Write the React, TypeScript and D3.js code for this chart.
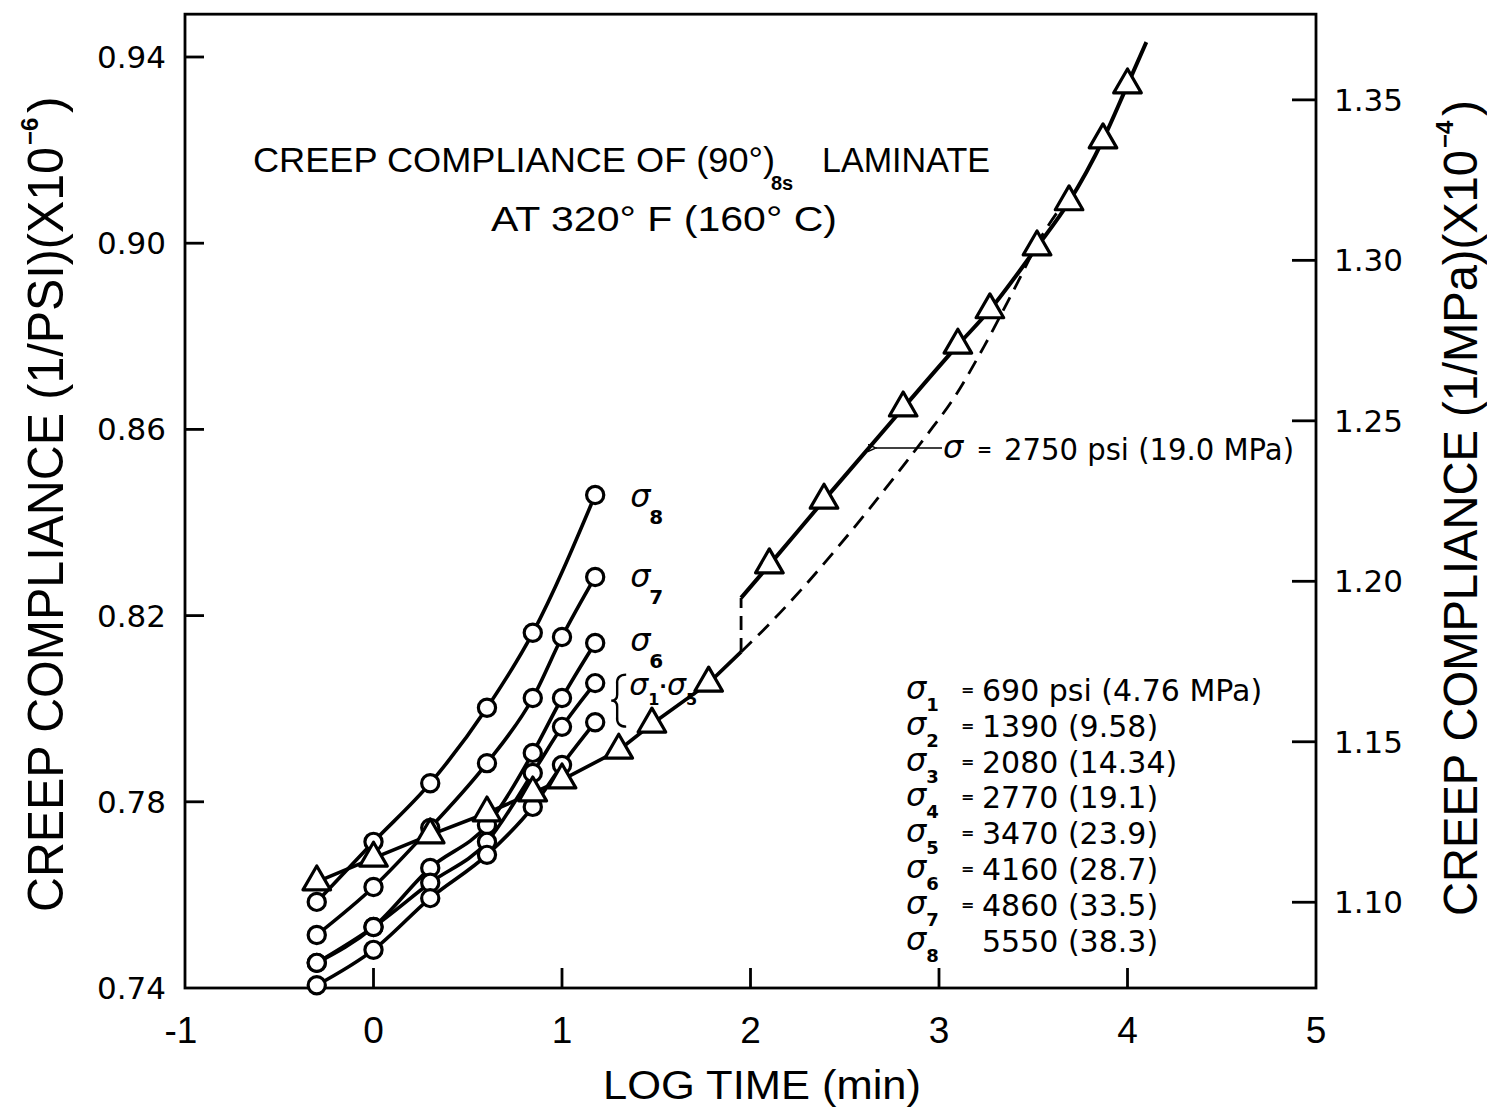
import React from 'react';
import * as d3 from 'd3';

// ---------- data ----------
const xTicks = [-1, 0, 1, 2, 3, 4, 5];
const xTickLabels = ['-1', '0', '1', '2', '3', '4', '5'];
const yTicksPsi = [0.74, 0.78, 0.82, 0.86, 0.9, 0.94];
const yTicksMPa = [1.1, 1.15, 1.2, 1.25, 1.3, 1.35];
const PSI_TO_MPA = 1.45038;

// log time (min) of the circle measurements
const logTime = [-0.301, 0, 0.301, 0.602, 0.845, 1.0, 1.176];
const sigma8 = [0.7585, 0.7714, 0.784, 0.8002, 0.8163, null, 0.8459];
const sigma7 = [0.7514, 0.7617, 0.7744, 0.7883, 0.8023, 0.8154, 0.8283];
const sigma6 = [0.7454, 0.7531, 0.7658, 0.775, 0.7905, 0.8023, 0.8141];
const sigma5 = [0.7454, 0.7531, 0.7626, 0.7714, 0.7862, 0.7961, 0.8055];
const sigma1 = [0.7406, 0.7482, 0.7593, 0.7686, 0.7789, 0.7879, 0.7971];

// sigma = 2750 psi, triangles
const triTime1 = [-0.301, 0, 0.301, 0.602, 0.845, 1.0, 1.301, 1.477, 1.778];
const triComp1 = [0.7628, 0.7679, 0.7729, 0.7776, 0.7819, 0.7847, 0.7911, 0.7967, 0.8055];
const stepTime = 1.95;
const stepLow = 0.8122;
const stepHigh = 0.8238;
const triTime2 = [2.1, 2.39, 2.81, 3.1, 3.27, 3.52, 3.69, 3.87, 4.0];
const triComp2 = [0.8309, 0.8448, 0.8646, 0.8781, 0.8857, 0.8992, 0.9089, 0.9222, 0.934];
const lineEndTime = 4.1;
const lineEndComp = 0.9432;

// dashed curve
const dashTime = [1.95, 2.095, 2.281, 2.451, 2.626, 2.78, 2.928, 3.08, 3.24, 3.41, 3.54, 3.66];
const dashComp = [0.8122, 0.818, 0.8261, 0.8341, 0.8427, 0.8506, 0.8584, 0.8668, 0.8779, 0.891, 0.9012, 0.9085];

// legend
const legendIndex = ['1', '2', '3', '4', '5', '6', '7', '8'];
const legendEq = ['=', '=', '=', '=', '=', '=', '=', ''];
const legendValues = [
  '690 psi (4.76 MPa)',
  '1390 (9.58)',
  '2080  (14.34)',
  '2770 (19.1)',
  '3470 (23.9)',
  '4160 (28.7)',
  '4860 (33.5)',
  '5550 (38.3)',
];

const SANS = "'Liberation Sans', Arial, sans-serif";
const NUM = "'DejaVu Sans', sans-serif";

export default function App() {
  const x = d3.scaleLinear().domain([-1, 5]).range([185, 1316]);
  const y = d3.scaleLinear().domain([0.74, 0.94]).range([988, 57]);
  const yTopVal = 0.9492;
  const yR = d3.scaleLinear().domain([0.74 * PSI_TO_MPA, 0.94 * PSI_TO_MPA]).range([988, 57]);

  const smooth = d3
    .line<[number, number]>()
    .x((d) => x(d[0]))
    .y((d) => y(d[1]))
    .curve(d3.curveMonotoneX);
  const straight = d3
    .line<[number, number]>()
    .x((d) => x(d[0]))
    .y((d) => y(d[1]));

  const circleSeries = [sigma8, sigma7, sigma6, sigma5, sigma1].map((vals) =>
    logTime
      .map((t, i) => [t, vals[i]] as [number, number | null])
      .filter((p) => p[1] !== null) as [number, number][]
  );

  const tri1 = triTime1.map((t, i) => [t, triComp1[i]] as [number, number]);
  const tri2 = triTime2.map((t, i) => [t, triComp2[i]] as [number, number]);
  const seg1: [number, number][] = [...tri1, [stepTime, stepLow]];
  const seg2: [number, number][] = [[stepTime, stepHigh], ...tri2, [lineEndTime, lineEndComp]];
  const dash = dashTime.map((t, i) => [t, dashComp[i]] as [number, number]);
  const triPath = d3.symbol().type(d3.symbolTriangle).size(330)() as string;

  const x0 = x(-1);
  const x1 = x(5);
  const yb = y(0.74);
  const yt = y(yTopVal);

  const endY = (vals: (number | null)[]) => y(vals[vals.length - 1] as number);
  const labX = x(1.176) + 35;
  const groupMid = (endY(sigma5) + endY(sigma1)) / 2;

  const arrowY = y(0.856);
  const arrowTip = x(2.655);
  const arrowTail = x(3.016);

  const legendX = 906;
  const legendBase = 699;
  const legendStep = 35.8;

  return (
    <svg
      width={1487}
      height={1108}
      style={{ position: 'absolute', left: 0, top: 0, background: '#fff' }}
      xmlns="http://www.w3.org/2000/svg"
    >
      <defs>
        <marker id="ah" viewBox="0 0 10 10" refX="1" refY="5" markerWidth="9" markerHeight="9" orient="auto-start-reverse" markerUnits="userSpaceOnUse">
          <path d="M10,1 L1,5 L10,9" fill="none" stroke="#000" strokeWidth="1.6" />
        </marker>
      </defs>
      <rect x={0} y={0} width={1487} height={1108} fill="#fff" />

      {/* frame */}
      <rect x={x0} y={yt} width={x1 - x0} height={yb - yt} fill="none" stroke="#000" strokeWidth={2.8} />

      {/* bottom ticks */}
      {xTicks.slice(1, -1).map((t) => (
        <line key={'xt' + t} x1={x(t)} x2={x(t)} y1={yb} y2={yb - 20} stroke="#000" strokeWidth={2.8} />
      ))}
      {xTicks.map((t, i) => (
        <text key={'xl' + t} x={x(t) - (t === -1 ? 4 : 0)} y={1043} fontFamily={SANS} fontSize={37} textAnchor="middle">
          {xTickLabels[i]}
        </text>
      ))}
      <text x={762} y={1099} fontFamily={SANS} fontSize={41} textAnchor="middle" textLength={318} lengthAdjust="spacingAndGlyphs">
        LOG TIME (min)
      </text>

      {/* left ticks */}
      {yTicksPsi.map((t) => (
        <g key={'yl' + t}>
          {t > 0.74 && <line x1={x0} x2={x0 + 19} y1={y(t)} y2={y(t)} stroke="#000" strokeWidth={2.8} />}
          <text x={166} y={y(t) + 11} fontFamily={NUM} fontSize={31} textAnchor="end">
            {t.toFixed(2)}
          </text>
        </g>
      ))}
      {/* right ticks */}
      {yTicksMPa.map((t) => (
        <g key={'yr' + t}>
          <line x1={x1} x2={x1 - 24} y1={yR(t)} y2={yR(t)} stroke="#000" strokeWidth={2.8} />
          <text x={1334} y={yR(t) + 11} fontFamily={NUM} fontSize={31} textAnchor="start">
            {t.toFixed(2)}
          </text>
        </g>
      ))}

      {/* left axis title */}
      <g transform="translate(63,0) rotate(-90)" fontFamily={SANS}>
        <text x={-912} y={0} fontSize={50} textLength={765} lengthAdjust="spacingAndGlyphs">
          CREEP COMPLIANCE (1/PSI)(X10
        </text>
        <text x={-145} y={-25} fontSize={24} fontWeight="bold">−6</text>
        <text x={-113} y={0} fontSize={50}>)</text>
      </g>
      {/* right axis title */}
      <g transform="translate(1477,0) rotate(-90)" fontFamily={SANS}>
        <text x={-916} y={0} fontSize={48} textLength={766} lengthAdjust="spacingAndGlyphs">
          CREEP COMPLIANCE (1/MPa)(X10
        </text>
        <text x={-148} y={-24} fontSize={24} fontWeight="bold">−4</text>
        <text x={-116} y={0} fontSize={48}>)</text>
      </g>

      {/* title */}
      <g fontFamily={SANS}>
        <text x={253} y={172} fontSize={35} textLength={522} lengthAdjust="spacingAndGlyphs">
          CREEP COMPLIANCE OF (90°)
        </text>
        <text x={771} y={190} fontSize={20} fontWeight="bold">8s</text>
        <text x={822} y={172} fontSize={35} textLength={168} lengthAdjust="spacingAndGlyphs">
          LAMINATE
        </text>
        <text x={491} y={231} fontSize={35} textLength={346} lengthAdjust="spacingAndGlyphs">
          AT  320° F  (160° C)
        </text>
      </g>

      {/* circle series lines */}
      {circleSeries.map((pts, i) => (
        <path key={'cl' + i} d={smooth(pts) as string} fill="none" stroke="#000" strokeWidth={3.6} />
      ))}

      {/* triangle series */}
      <path d={straight(seg1) as string} fill="none" stroke="#000" strokeWidth={3.6} />
      <path d={smooth(seg2) as string} fill="none" stroke="#000" strokeWidth={4} />
      <line x1={x(stepTime)} x2={x(stepTime)} y1={y(stepLow)} y2={y(stepHigh)} stroke="#000" strokeWidth={2.8} strokeDasharray="14 8" />
      <path d={smooth(dash) as string} fill="none" stroke="#000" strokeWidth={2.8} strokeDasharray="15 9" />

      {/* circles */}
      {circleSeries.map((pts, i) =>
        pts.map((p, j) => (
          <circle key={'c' + i + '-' + j} cx={x(p[0])} cy={y(p[1])} r={8.6} fill="#fff" stroke="#000" strokeWidth={3.2} />
        ))
      )}
      {/* triangles */}
      {[...tri1, ...tri2].map((p, j) => (
        <path key={'t' + j} d={triPath} transform={`translate(${x(p[0])},${y(p[1])})`} fill="#fff" stroke="#000" strokeWidth={3.2} strokeLinejoin="round" />
      ))}

      {/* series labels */}
      <g fontFamily={NUM}>
        <text x={labX} y={endY(sigma8) + 12} fontSize={32} fontStyle="italic">σ</text>
        <text x={labX + 19} y={endY(sigma8) + 29} fontSize={20} fontWeight="bold">8</text>
        <text x={labX} y={endY(sigma7) + 10} fontSize={32} fontStyle="italic">σ</text>
        <text x={labX + 19} y={endY(sigma7) + 27} fontSize={20} fontWeight="bold">7</text>
        <text x={labX} y={endY(sigma6) + 8} fontSize={32} fontStyle="italic">σ</text>
        <text x={labX + 19} y={endY(sigma6) + 25} fontSize={20} fontWeight="bold">6</text>
        <path
          d={`M ${labX - 4} ${groupMid - 28} Q ${labX - 14} ${groupMid - 28} ${labX - 13} ${groupMid - 18} L ${labX - 13} ${groupMid - 8} Q ${labX - 13} ${groupMid - 2} ${labX - 19} ${groupMid - 2} Q ${labX - 13} ${groupMid - 2} ${labX - 13} ${groupMid + 4} L ${labX - 13} ${groupMid + 14} Q ${labX - 14} ${groupMid + 24} ${labX - 4} ${groupMid + 24}`}
          fill="none"
          stroke="#000"
          strokeWidth={2.4}
        />
        <text x={labX - 1} y={groupMid - 8} fontSize={30} fontStyle="italic">
          σ
          <tspan fontSize={16} fontStyle="normal" fontWeight="bold" dy={10}>1</tspan>
          <tspan fontSize={20} fontStyle="normal" fontWeight="bold" dy={-12}>·</tspan>
          <tspan dy={2}>σ</tspan>
          <tspan fontSize={16} fontStyle="normal" fontWeight="bold" dy={10}>5</tspan>
        </text>
      </g>

      {/* sigma = 2750 annotation */}
      <line x1={arrowTail} x2={arrowTip + 2} y1={arrowY} y2={arrowY} stroke="#000" strokeWidth={1.6} markerEnd="url(#ah)" />
      <g fontFamily={NUM}>
        <text x={arrowTail + 1} y={arrowY + 10} fontSize={32} fontStyle="italic">σ</text>
        <text x={977} y={arrowY + 8} fontSize={18} fontWeight="bold">=</text>
        <text x={1004} y={arrowY + 12} fontSize={31} textLength={290} lengthAdjust="spacingAndGlyphs">
          2750 psi (19.0 MPa)
        </text>
      </g>

      {/* legend */}
      <g fontFamily={NUM}>
        {legendIndex.map((k, i) => {
          const by = legendBase + i * legendStep;
          return (
            <g key={'lg' + k}>
              <text x={legendX} y={by} fontSize={32} fontStyle="italic">
                σ
                <tspan fontSize={18} fontStyle="normal" fontWeight="bold" dy={12}>{k}</tspan>
              </text>
              <text x={legendX + 55} y={by - 4} fontSize={16} fontWeight="bold">{legendEq[i]}</text>
              <text x={legendX + 76} y={by + 2} fontSize={30}>{legendValues[i]}</text>
            </g>
          );
        })}
      </g>
    </svg>
  );
}
